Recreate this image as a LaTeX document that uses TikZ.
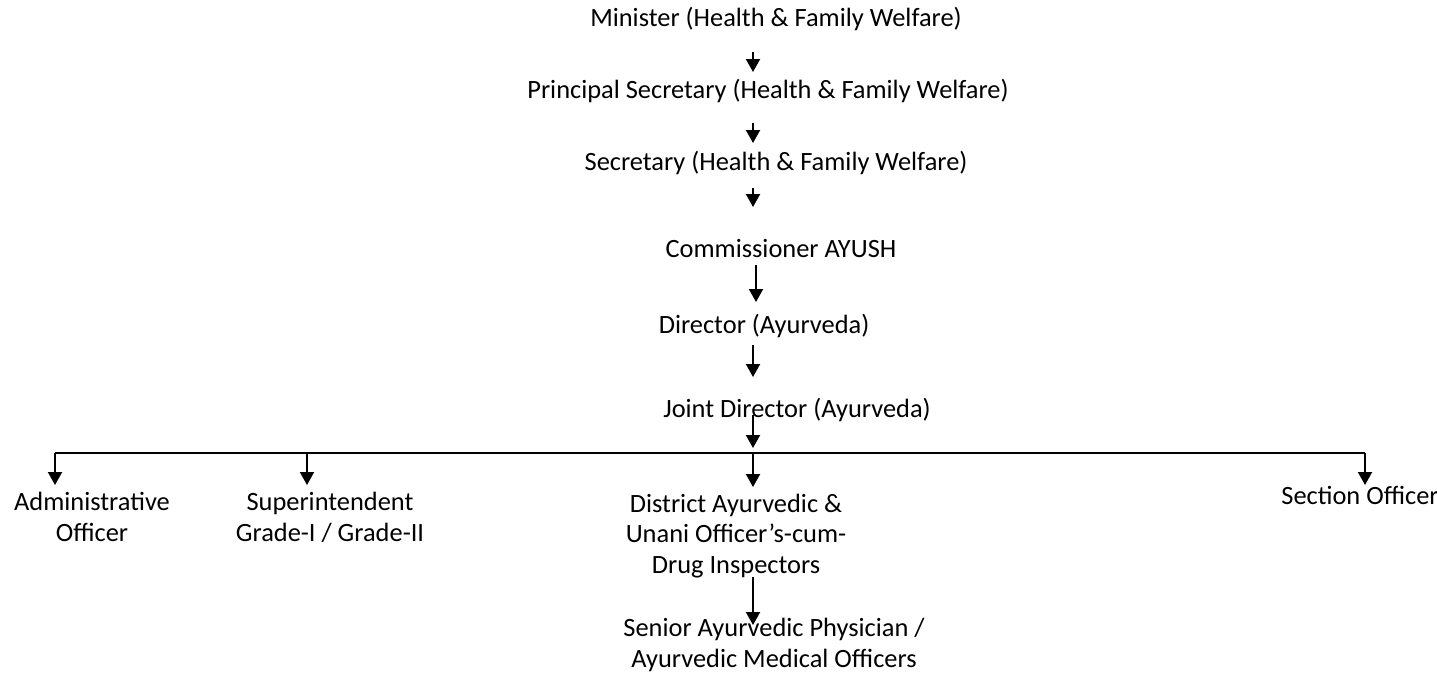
\documentclass[tikz,border=0pt]{standalone}
\usepackage{fontspec}
\setmainfont{Carlito}
\usetikzlibrary{arrows.meta}
\begin{document}
\begin{tikzpicture}[x=1pt,y=-1pt,
  lbl/.style={anchor=base,inner sep=0pt,align=center,font=\fontsize{26.4}{30.5}\selectfont},
  arr/.style={line width=2pt,-{Triangle[width=14pt,length=13pt]}},
  ln/.style={line width=2pt}]
\useasboundingbox (0,0) rectangle (1437,680);
\coordinate (col) at (753,0);
\coordinate (col2) at (756,0);
\node[lbl] (min) at (776,27) {Minister (Health \& Family Welfare)};
\node[lbl] (prin) at (768,98) {Principal Secretary (Health \& Family Welfare)};
\node[lbl] (sec) at (776,170) {Secretary (Health \& Family Welfare)};
\node[lbl] (com) at (781,257) {Commissioner AYUSH};
\node[lbl] (dir) at (764,333) {Director (Ayurveda)};
\node[lbl] (jd) at (797,417) {Joint Director (Ayurveda)};
\node[lbl] (adm) at (92,541) {Administrative\\Officer};
\node[lbl] (sup) at (330,541) {Superintendent\\Grade-I / Grade-II};
\node[lbl] (dist) at (736,573) {District Ayurvedic \&\\Unani Officer’s-cum-\\Drug Inspectors};
\node[lbl] (so) at (1360,504) {Section Officer};
\node[lbl] (sen) at (774,667) {Senior Ayurvedic Physician /\\Ayurvedic Medical Officers};
\coordinate (hlL) at (55,453);
\coordinate (hlS) at (307,453);
\coordinate (hlM) at (753,453);
\coordinate (hlR) at (1365,453);
\draw[arr] ([yshift=-25pt]min.base -| col) -- ([yshift=26pt]prin.base -| col);
\draw[arr] ([yshift=-25pt]prin.base -| col) -- ([yshift=27pt]sec.base -| col);
\draw[arr] ([yshift=-18pt]sec.base -| col) -- ([yshift=50pt]com.base -| col);
\draw[arr] ([yshift=-8pt]com.base -| col2) -- ([yshift=31pt]dir.base -| col2);
\draw[arr] ([yshift=-12pt]dir.base -| col) -- ([yshift=40pt]jd.base -| col);
\draw[arr] ([yshift=2pt]jd.base -| col) -- ([yshift=5pt]hlM);
\draw[ln] (hlL) -- (hlR);
\draw[arr] (hlL) -- ([yshift=56pt]adm.base -| hlL);
\draw[arr] (hlS) -- ([yshift=56pt]sup.base -| hlS);
\draw[arr] (hlM) -- ([yshift=86pt]dist.base -| hlM);
\draw[arr] (hlR) -- ([yshift=19pt]so.base -| hlR);
\draw[arr] ([yshift=-4pt]dist.base -| col) -- ([yshift=42pt]sen.base -| col);
\end{tikzpicture}
\end{document}
